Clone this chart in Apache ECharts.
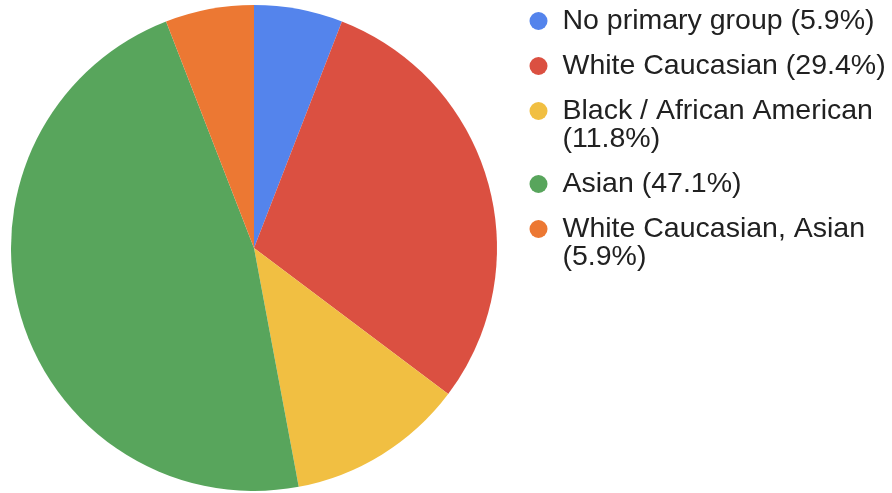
<!DOCTYPE html>
<html>
<head>
<meta charset="utf-8">
<script src="https://cdn.jsdelivr.net/npm/echarts@6/dist/echarts.min.js"></script>
<style>
  html, body { margin: 0; padding: 0; background: #ffffff; }
  #chart { width: 892px; height: 493px; }
</style>
</head>
<body>
<div id="chart"></div>
<script>
// Share of respondents by primary ethnic group (percent)
const categories = [
  'No primary group',
  'White Caucasian',
  'Black / African American',
  'Asian',
  'White Caucasian, Asian'
];
const percents = [5.9, 29.4, 11.8, 47.1, 5.9];
const colors = ['#5484ec', '#db5041', '#f1bf42', '#58a55c', '#ec7833'];

const FONT_SIZE = 28.5;
const FONT_FAMILY = '"Liberation Sans", Arial, Helvetica, sans-serif';
const LINE_H = 28;
const LEGEND_MAX_W = 345;
const DOT = 18;
const DOT_X = 538.5;      // dot centre
const DOT_TO_TEXT = 24;   // dot centre to text start

// Legend label "Name (x%)", wrapped before the percentage when too wide
const ctx = document.createElement('canvas').getContext('2d');
ctx.font = FONT_SIZE + 'px ' + FONT_FAMILY;
const legendLines = categories.map(function (name, i) {
  const oneLine = name + ' (' + percents[i] + '%)';
  return ctx.measureText(oneLine).width > LEGEND_MAX_W
    ? [name, '(' + percents[i] + '%)']
    : [oneLine];
});

// One legend block per entry. Wrapped labels get a leading blank line so that
// the vertically centred dot lines up with the first text line.
// The icon box is wider than the dot to push the text right; the dot stays
// centred in it, and the block is placed by the dot's left edge.
const iconBoxW = (DOT_TO_TEXT - 5) * 2;
const legends = [];
let cy = 20.5;
categories.forEach(function (name, i) {
  const lines = legendLines[i];
  const extra = (lines.length - 1) * LINE_H;
  const label = (lines.length > 1 ? ' \n' : '') + lines.join('\n');
  legends.push({
    data: [name],
    left: DOT_X - DOT / 2,
    top: cy - LINE_H / 2 - extra,
    padding: 0,
    itemWidth: iconBoxW,
    itemHeight: DOT,
    icon: 'circle',
    formatter: function () { return label; },
    textStyle: {
      fontSize: FONT_SIZE,
      fontFamily: FONT_FAMILY,
      color: '#212121',
      lineHeight: LINE_H
    }
  });
  cy += 45 + extra;
});

const chart = echarts.init(document.getElementById('chart'), null, { renderer: 'canvas' });
chart.setOption({
  animation: false,
  color: colors,
  legend: legends,
  series: [{
    type: 'pie',
    center: [254, 248],
    radius: [0, 243],
    startAngle: 90,
    clockwise: true,
    label: { show: false },
    labelLine: { show: false },
    emphasis: { scale: false },
    itemStyle: { borderWidth: 0 },
    data: categories.map(function (name, i) {
      return { name: name, value: percents[i] };
    })
  }]
});
</script>
</body>
</html>
